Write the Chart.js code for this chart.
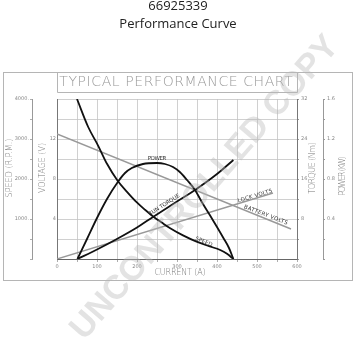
<!DOCTYPE html>
<html>
<head>
<meta charset="utf-8">
<script src="https://cdn.jsdelivr.net/npm/chart.js@4/dist/chart.umd.min.js"></script>
<style>
  html, body { margin: 0; padding: 0; background: #fff; }
  #wrap { width: 357px; height: 352px; }
</style>
</head>
<body>
<div id="wrap"><canvas id="myChart" width="357" height="352"></canvas></div>
<script>
// Data (current in A)
const speedCurrent = [50, 78, 103, 125, 152, 175, 199, 220, 241, 262, 283, 315, 349, 380, 408, 425, 441];
const speedRpm = [4000, 3300, 2830, 2380, 1950, 1680, 1420, 1230, 1058, 910, 768, 590, 433, 320, 225, 130, 0];

const powerCurrent = [51, 75, 100, 125, 152, 170, 187, 215, 250, 270, 290, 307, 325, 345, 362, 382, 400, 416, 430, 441];
const powerKw = [0, 0.2, 0.41, 0.6, 0.77, 0.86, 0.91, 0.95, 0.96, 0.95, 0.92, 0.87, 0.79, 0.69, 0.57, 0.44, 0.32, 0.21, 0.11, 0];

const torqueCurrent = [51, 100, 152, 200, 241, 300, 345, 400, 441];
const torqueNm = [0, 1.9, 4.1, 6.3, 8.46, 11.5, 13.8, 17.0, 19.8];

const batteryCurrent = [0, 585];
const batteryVolts = [12.5, 3.0];

const lockCurrent = [0, 540];
const lockVolts = [0, 6.6];

// curve labels: text, current, value, axis, angle (deg)
const curveLabels = [
    ["POWER", 250, 1.0, "yP", 0],
    ["RUN TORQUE", 268, 10.8, "yT", -33],
    ["SPEED", 367, 430, "yS", 22],
    ["LOCK VOLTS", 495, 6.3, "yV", -17],
    ["BATTERY VOLTS", 522, 4.4, "yV", 21]
];

function pts(xs, ys) {
    return xs.map((x, i) => ({ x: x, y: ys[i] }));
}

const tickFont = { family: "DejaVu Sans", size: 5 };
const tickColor = "#888";
const lineGray = "#999";

// draw text stretched to a target width
function spacedText(ctx, text, x, y, width, angle) {
    ctx.save();
    ctx.translate(x, y);
    ctx.rotate(angle * Math.PI / 180);
    ctx.letterSpacing = "0px";
    let w = ctx.measureText(text).width;
    let sp = (width - w) / text.length;
    ctx.letterSpacing = sp + "px";
    ctx.textAlign = "left";
    ctx.textBaseline = "middle";
    ctx.fillText(text, -width / 2 + sp / 2, 0);
    ctx.restore();
}

const decorPlugin = {
    id: "decor",
    beforeDraw(chart) {
        const ctx = chart.ctx;
        ctx.save();
        // headings
        ctx.fillStyle = "#222";
        ctx.textAlign = "center";
        ctx.textBaseline = "alphabetic";
        ctx.font = '13px "Open Sans"';
        ctx.fillText("66925339", 178, 10);
        ctx.fillText("Performance Curve", 178, 28);

        // frame
        ctx.strokeStyle = "#b5b5b5";
        ctx.lineWidth = 1;
        ctx.strokeRect(3.5, 72.5, 349, 208);
        ctx.beginPath();
        ctx.moveTo(57.5, 72.5);
        ctx.lineTo(57.5, 92.5);
        ctx.lineTo(297.5, 92.5);
        ctx.lineTo(297.5, 72.5);
        ctx.stroke();

        ctx.fillStyle = "#999";
        ctx.font = '200 14px "DejaVu Sans"';
        spacedText(ctx, "TYPICAL PERFORMANCE CHART", 176, 82, 234, 0);

        // axis titles
        ctx.fillStyle = "#777";
        ctx.font = '300 8px "DejaVu Sans"';
        spacedText(ctx, "SPEED (R.P.M.)", 10, 168, 59, -90);
        spacedText(ctx, "VOLTAGE (V)", 43, 168, 50, -90);
        spacedText(ctx, "TORQUE (Nm)", 313, 168, 51, -90);
        spacedText(ctx, "POWER (KW)", 343, 176, 38, -90);
        spacedText(ctx, "CURRENT (A)", 180, 273, 51, 0);
        ctx.restore();
    },
    afterDatasetsDraw(chart) {
        const ctx = chart.ctx;
        ctx.save();
        ctx.fillStyle = "#333";
        ctx.font = '5.5px "DejaVu Sans"';
        curveLabels.forEach(l => {
            const px = chart.scales.x.getPixelForValue(l[1]);
            const py = chart.scales[l[3]].getPixelForValue(l[2]);
            spacedText(ctx, l[0], px, py, l[0].length * 3.6, l[4]);
        });
        ctx.restore();
    },
    afterDraw(chart) {
        // watermark
        const ctx = chart.ctx;
        ctx.save();
        ctx.translate(205, 188);
        ctx.rotate(-49 * Math.PI / 180);
        ctx.font = 'bold 34px "Liberation Sans"';
        ctx.textAlign = "center";
        ctx.textBaseline = "middle";
        ctx.fillStyle = "rgba(185,185,185,0.4)";
        const t = "UNCONTROLLED COPY";
        const w = ctx.measureText(t).width;
        ctx.scale(390 / w, 1);
        ctx.fillText(t, 0, 0);
        ctx.restore();
    }
};

function fixWidth(w) {
    return function (scale) { scale.width = w; };
}

new Chart("myChart", {
    type: "line",
    data: {
        datasets: [
            { label: "Speed", data: pts(speedCurrent, speedRpm), yAxisID: "yS", borderColor: "#111", borderWidth: 1.8, pointRadius: 0, cubicInterpolationMode: "monotone" },
            { label: "Power", data: pts(powerCurrent, powerKw), yAxisID: "yP", borderColor: "#111", borderWidth: 1.8, pointRadius: 0, cubicInterpolationMode: "monotone" },
            { label: "Run torque", data: pts(torqueCurrent, torqueNm), yAxisID: "yT", borderColor: "#111", borderWidth: 1.8, pointRadius: 0, cubicInterpolationMode: "monotone" },
            { label: "Battery volts", data: pts(batteryCurrent, batteryVolts), yAxisID: "yV", borderColor: lineGray, borderWidth: 1.4, pointRadius: 0 },
            { label: "Lock volts", data: pts(lockCurrent, lockVolts), yAxisID: "yV", borderColor: lineGray, borderWidth: 1.4, pointRadius: 0 }
        ]
    },
    options: {
        responsive: false,
        animation: false,
        layout: { padding: { top: 99, bottom: 73, left: 0, right: 7 } },
        plugins: { legend: { display: false }, tooltip: { enabled: false } },
        scales: {
            x: {
                type: "linear", min: 0, max: 600,
                ticks: { stepSize: 50, font: tickFont, color: tickColor, padding: 2, maxRotation: 0,
                    callback: v => (v % 100 === 0 ? String(v) : "") },
                grid: { color: "#c4c4c4", lineWidth: 0.8, tickLength: 3, tickColor: "#999" },
                border: { color: "#666", width: 1 },
                afterFit: s => { s.height = 20; }
            },
            yS: {
                position: "left", weight: 2, min: 0, max: 4000,
                ticks: { stepSize: 500, font: tickFont, color: tickColor, padding: 1,
                    callback: v => (v > 0 && v % 1000 === 0 ? v + "." : "") },
                grid: { color: "#c4c4c4", lineWidth: 0.8, tickLength: 2, tickColor: "#999", drawOnChartArea: true },
                border: { color: "#999", width: 1 },
                afterFit: fixWidth(32)
            },
            yV: {
                position: "left", weight: 1, min: 0, max: 16,
                ticks: { stepSize: 2, font: tickFont, color: tickColor, padding: 1,
                    callback: v => (v > 0 && v < 16 && v % 4 === 0 ? String(v) : "") },
                grid: { drawOnChartArea: false, tickLength: 0 },
                border: { color: "#777", width: 1 },
                afterFit: fixWidth(25)
            },
            yT: {
                position: "right", weight: 1, min: 0, max: 32,
                ticks: { stepSize: 4, font: tickFont, color: tickColor, padding: 2,
                    callback: v => (v > 0 && v % 8 === 0 ? String(v) : "") },
                grid: { drawOnChartArea: false, tickLength: 2, tickColor: "#999" },
                border: { color: "#777", width: 1 },
                afterFit: fixWidth(26)
            },
            yP: {
                position: "right", weight: 2, min: 0, max: 1.6,
                ticks: { stepSize: 0.2, font: tickFont, color: tickColor, padding: 2,
                    callback: v => { const r = Math.round(v * 10); return (r > 0 && r % 4 === 0) ? (r / 10).toFixed(1) : ""; } },
                grid: { drawOnChartArea: false, tickLength: 2, tickColor: "#999" },
                border: { color: "#999", width: 1 },
                afterFit: fixWidth(27)
            }
        }
    },
    plugins: [decorPlugin]
});
</script>
</body>
</html>
